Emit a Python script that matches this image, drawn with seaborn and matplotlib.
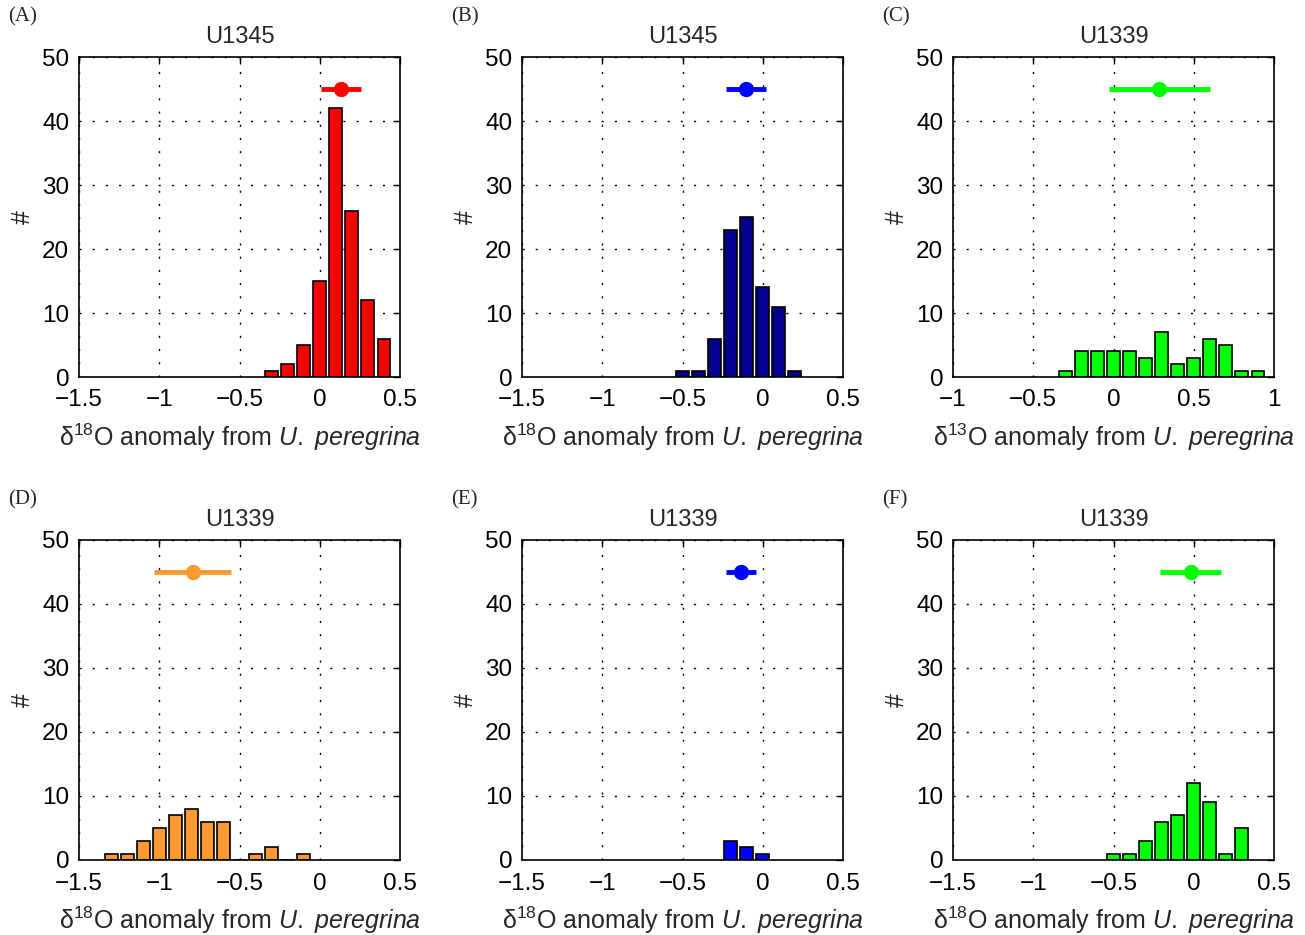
import numpy as np
import matplotlib
matplotlib.use("Agg")
import matplotlib.pyplot as plt
import seaborn as sns
from matplotlib.ticker import FuncFormatter

# -----------------------------
# Histogram data (bin centres and counts)
# -----------------------------
a_bins = [-0.3, -0.2, -0.1, 0.0, 0.1, 0.2, 0.3, 0.4]
a_counts = [1, 2, 5, 15, 42, 26, 12, 6]

b_bins = [-0.5, -0.4, -0.3, -0.2, -0.1, 0.0, 0.1, 0.2]
b_counts = [1, 1, 6, 23, 25, 14, 11, 1]

c_bins = [-0.3, -0.2, -0.1, 0.0, 0.1, 0.2, 0.3, 0.4, 0.5, 0.6, 0.7, 0.8, 0.9]
c_counts = [1, 4, 4, 4, 4, 3, 7, 2, 3, 6, 5, 1, 1]

d_bins = [-1.3, -1.2, -1.1, -1.0, -0.9, -0.8, -0.7, -0.6, -0.5, -0.4, -0.3, -0.2, -0.1]
d_counts = [1, 1, 3, 5, 7, 8, 6, 6, 0, 1, 2, 0, 1]

e_bins = [-0.2, -0.1, 0.0]
e_counts = [3, 2, 1]

f_bins = [-0.5, -0.4, -0.3, -0.2, -0.1, 0.0, 0.1, 0.2, 0.3]
f_counts = [1, 1, 3, 6, 7, 12, 9, 1, 5]

# mean +/- error markers
means = [0.13, -0.105, 0.285, -0.79, -0.135, -0.02]
errs = [0.125, 0.125, 0.315, 0.24, 0.095, 0.19]

titles = ["U1345", "U1345", "U1339", "U1339", "U1339", "U1339"]
panel_tags = ["(A)", "(B)", "(C)", "(D)", "(E)", "(F)"]
isotopes = ["18", "18", "13", "18", "18", "18"]
bar_colors = ["#FF0000", "#00008B", "#00FF00", "#FF9933", "#0000FF", "#00FF00"]
dot_colors = ["#FF0000", "#0000FF", "#00FF00", "#FF9933", "#0000FF", "#00FF00"]
xlims = [(-1.5, 0.5), (-1.5, 0.5), (-1, 1), (-1.5, 0.5), (-1.5, 0.5), (-1.5, 0.5)]

all_bins = [a_bins, b_bins, c_bins, d_bins, e_bins, f_bins]
all_counts = [a_counts, b_counts, c_counts, d_counts, e_counts, f_counts]

# -----------------------------
# Style
# -----------------------------
sns.set_theme(style="white")
plt.rcParams["font.family"] = ["Liberation Sans", "DejaVu Sans"]
plt.rcParams["mathtext.fontset"] = "custom"
plt.rcParams["mathtext.rm"] = "Liberation Sans"
plt.rcParams["mathtext.it"] = "Liberation Sans:italic"
plt.rcParams["axes.unicode_minus"] = True

fig = plt.figure(figsize=(13.05, 9.35), dpi=100)

W, H = 1305, 935
lefts = [79, 522, 953]
tops = [57, 540]
aw, ah = 321, 320

fmt = FuncFormatter(lambda v, p: ("%g" % v).replace("-", "\u2212"))

for i in range(6):
    r, c = divmod(i, 3)
    ax = fig.add_axes([lefts[c] / W, 1 - (tops[r] + ah) / H, aw / W, ah / H])

    sns.barplot(x=all_bins[i], y=all_counts[i], native_scale=True,
                color=bar_colors[i], saturation=1, edgecolor="black",
                linewidth=1.2, errorbar=None, width=0.8, ax=ax, zorder=2)

    ax.errorbar([means[i]], [45], xerr=[errs[i]], fmt="o", color=dot_colors[i],
                markersize=10, elinewidth=3.5, capsize=0, zorder=3)

    x0, x1 = xlims[i]
    ax.set_xlim(x0, x1)
    ax.set_ylim(0, 50)
    ax.set_xticks(np.arange(x0, x1 + 0.01, 0.5))
    ax.set_yticks([0, 10, 20, 30, 40, 50])
    ax.xaxis.set_major_formatter(fmt)

    ax.set_axisbelow(True)
    ax.grid(True, color="black", linestyle=(0, (1.5, 8)), linewidth=1.0)
    for s in ax.spines.values():
        s.set_visible(True)
        s.set_color("black")
        s.set_linewidth(1.2)
    ax.tick_params(direction="in", top=True, right=True, length=5, width=1,
                   labelsize=17.5, colors="black")
    ax.tick_params(axis="x", pad=9)
    ax.tick_params(axis="y", pad=7)

    ax.set_title(titles[i], fontsize=17, pad=10)
    ax.set_ylabel("#", fontsize=18, labelpad=5)
    ax.set_xlabel("\u03b4$^{%s}$O anomaly from $\\it{U.}$ $\\it{peregrina}$" % isotopes[i],
                  fontsize=18, labelpad=7)

    fig.text((lefts[c] - 71) / W, 1 - (tops[r] - 40) / H, panel_tags[i],
             family="Liberation Serif", fontsize=15, ha="left", va="center")

plt.savefig("out.png", dpi=100)
plt.close()
